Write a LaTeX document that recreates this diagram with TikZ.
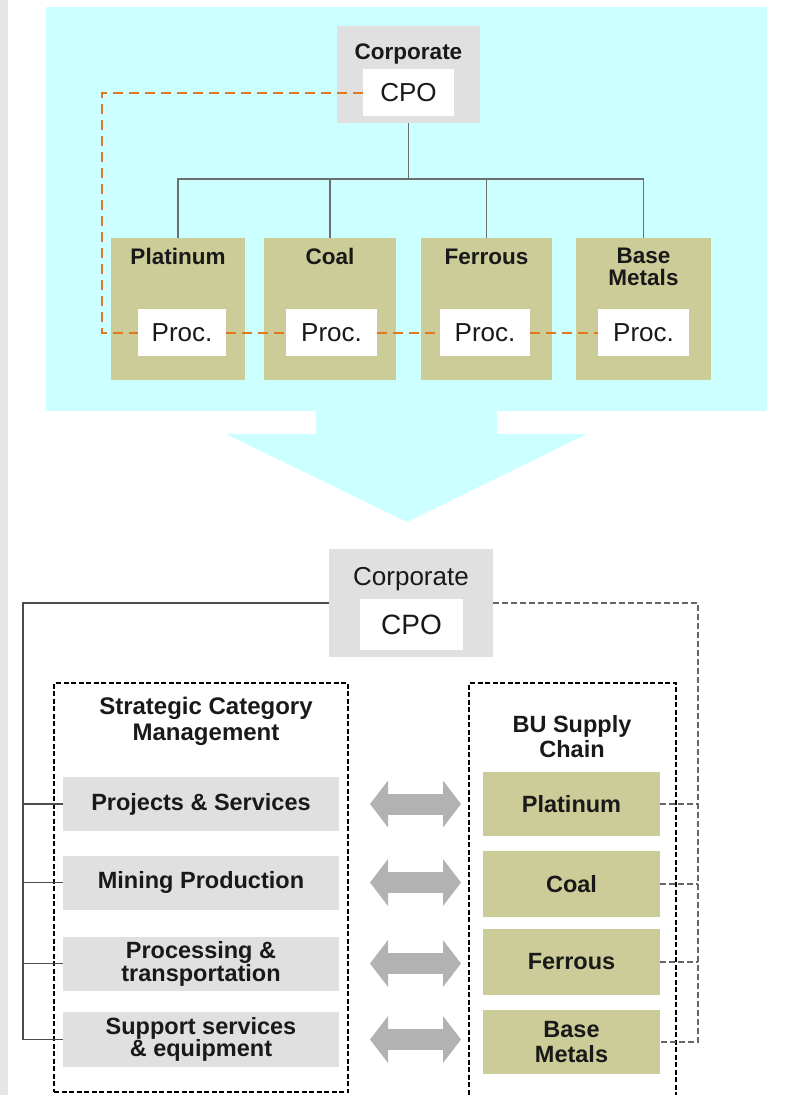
\documentclass[tikz,border=0pt]{standalone}
\usepackage{fontspec}
\setmainfont{Liberation Sans}
\usetikzlibrary{arrows.meta}
\definecolor{cyanbg}{RGB}{204,255,255}
\definecolor{khaki}{RGB}{204,204,153}
\definecolor{lgray}{RGB}{224,224,224}
\definecolor{stripgray}{RGB}{230,230,230}
\definecolor{orng}{RGB}{226,120,30}
\definecolor{arrgray}{RGB}{178,178,178}
\definecolor{treegray}{RGB}{110,110,110}
\definecolor{txt}{RGB}{25,25,25}
\begin{document}
\begin{tikzpicture}[x=1pt,y=-1pt,
  sz/.style 2 args={minimum width=#1, minimum height=#2, inner sep=0pt, outer sep=0pt},
  graybox/.style={fill=lgray},
  whitebox/.style={fill=white},
  khakibox/.style={fill=khaki},
  toplbl/.style={font=\fontsize{22.5}{22}\selectfont\bfseries, align=center, inner sep=0pt, text=txt},
  botlbl/.style={font=\fontsize{23.5}{22}\selectfont\bfseries, align=center, text=txt},
  bulbl/.style={font=\fontsize{23.5}{25}\selectfont\bfseries, align=center, text=txt},
  procfont/.style={font=\fontsize{26}{30}\selectfont, text=txt},
  tree/.style={draw=treegray, line width=1.5pt},
  orngdash/.style={draw=orng, line width=2pt, dash pattern=on 10pt off 6pt},
  solidline/.style={draw=black!70, line width=1.5pt},
  gdash/.style={draw=black!60, line width=1.5pt, dash pattern=on 6pt off 3pt},
  dbox/.style={draw=black, line width=1.5pt, dash pattern=on 5pt off 2.5pt},
  dbl/.style={draw=arrgray, line width=21pt, {Triangle[length=18pt,width=46pt]}-{Triangle[length=18pt,width=46pt]}, shorten <=31pt, shorten >=22pt}
]
\useasboundingbox (0,0) rectangle (795,1095);
\clip (0,0) rectangle (795,1095);
% background
\fill[stripgray] (0,0) rectangle (8,1095);
\fill[cyanbg] (46,7) rectangle (767,411);
\fill[cyanbg] (316,410) -- (497,410) -- (497,434) -- (587,434) -- (407,522) -- (226,434) -- (316,434) -- cycle;

% ---------- top organisation ----------
\node[graybox, sz={143pt}{97pt}] (corp1) at (408.5,74.5) {};
\node[toplbl] (corp1t) at (408.5,53.6) {Corporate};
\node[whitebox, sz={91pt}{47pt}, procfont] (cpo1) at (408.5,92.5) {CPO};

\node[khakibox, sz={134pt}{142pt}] (bu1) at (178,309) {};
\node[khakibox, sz={132pt}{142pt}] (bu2) at (330,309) {};
\node[khakibox, sz={131pt}{142pt}] (bu3) at (486.5,309) {};
\node[khakibox, sz={135pt}{142pt}] (bu4) at (643.5,309) {};
\node[toplbl] (bu1t) at (178,256.5) {Platinum};
\node[toplbl] (bu2t) at (330,256.5) {Coal};
\node[toplbl] (bu3t) at (486.5,256.5) {Ferrous};
\node[toplbl] (bu4t) at (643.5,266.5) {Base\\Metals};

\node[whitebox, sz={88pt}{47pt}, procfont] (proc1) at (182,332.5) {Proc.};
\node[whitebox, sz={91pt}{47pt}, procfont] (proc2) at (331.5,332.5) {Proc.};
\node[whitebox, sz={90pt}{47pt}, procfont] (proc3) at (485,332.5) {Proc.};
\node[whitebox, sz={91pt}{47pt}, procfont] (proc4) at (643.5,332.5) {Proc.};

\coordinate (tj) at (408.5,179);
\draw[tree] (corp1.south) -- (tj);
\draw[tree] (bu1.north) |- (tj) -| (bu4.north);
\draw[tree] (bu2.north) -- (bu2.north |- tj);
\draw[tree] (bu3.north) -- (bu3.north |- tj);

\coordinate (ol) at (102,0);
\draw[orngdash] (cpo1.west) -| (ol |- proc1.west) -- (proc1.west);
\draw[orngdash] (proc1.east) -- (proc2.west);
\draw[orngdash] (proc2.east) -- (proc3.west);
\draw[orngdash] (proc3.east) -- (proc4.west);

% ---------- bottom organisation ----------
\node[graybox, sz={164pt}{108pt}] (corp2) at (411,603) {};
\node[font=\fontsize{26}{30}\selectfont, text=txt, inner sep=0pt] (corp2t) at (411,579) {Corporate};
\node[whitebox, sz={103pt}{51pt}, font=\fontsize{28}{30}\selectfont, text=txt] (cpo2) at (411.5,624.5) {CPO};

\node[dbox, sz={294pt}{409pt}] (scm) at (201,887.5) {};
\node[dbox, sz={207pt}{417pt}] (bsc) at (572.5,891.5) {};
\node[font=\fontsize{24}{26}\selectfont\bfseries, align=center, text=txt, inner sep=0pt] (scmt) at (206,721.3) {Strategic Category\\Management};
\node[font=\fontsize{23.5}{25}\selectfont\bfseries, align=center, text=txt, inner sep=0pt] (bsct) at (572,736.5) {BU Supply\\Chain};

\node[graybox, sz={276pt}{54pt}, botlbl] (cat1) at (201,804) {Projects \& Services};
\node[graybox, sz={276pt}{54pt}, botlbl] (cat2) at (201,882.5) {Mining Production};
\node[graybox, sz={276pt}{54pt}, botlbl] (cat3) at (201,963.5) {Processing \&\\transportation};
\node[graybox, sz={276pt}{55pt}, botlbl] (cat4) at (201,1039.5) {Support services\\\& equipment};

\node[khakibox, sz={177pt}{64pt}, bulbl] (bub1) at (571.5,804) {Platinum};
\node[khakibox, sz={177pt}{66pt}, bulbl] (bub2) at (571.5,884) {Coal};
\node[khakibox, sz={177pt}{66pt}, bulbl] (bub3) at (571.5,962) {Ferrous};
\node[khakibox, sz={177pt}{64pt}, bulbl] (bub4) at (571.5,1042) {Base\\Metals};

\coordinate (ll) at (23,0);
\draw[solidline] (corp2.west) -| (ll |- cat4.west) -- (cat4.west);
\draw[solidline] (ll |- cat1.west) -- (cat1.west);
\draw[solidline] (ll |- cat2.west) -- (cat2.west);
\draw[solidline] (ll |- cat3.west) -- (cat3.west);

\coordinate (rl) at (698,0);
\draw[gdash] (corp2.east) -| (rl |- bub4.east) -- (bub4.east);
\draw[gdash] (bub1.east) -- (rl |- bub1.east);
\draw[gdash] (bub2.east) -- (rl |- bub2.east);
\draw[gdash] (bub3.east) -- (rl |- bub3.east);

\draw[dbl] (cat1.east) -- (cat1.east -| bub1.west);
\draw[dbl] (cat2.east) -- (cat2.east -| bub2.west);
\draw[dbl] (cat3.east) -- (cat3.east -| bub3.west);
\draw[dbl] (cat4.east) -- (cat4.east -| bub4.west);
\end{tikzpicture}
\end{document}
